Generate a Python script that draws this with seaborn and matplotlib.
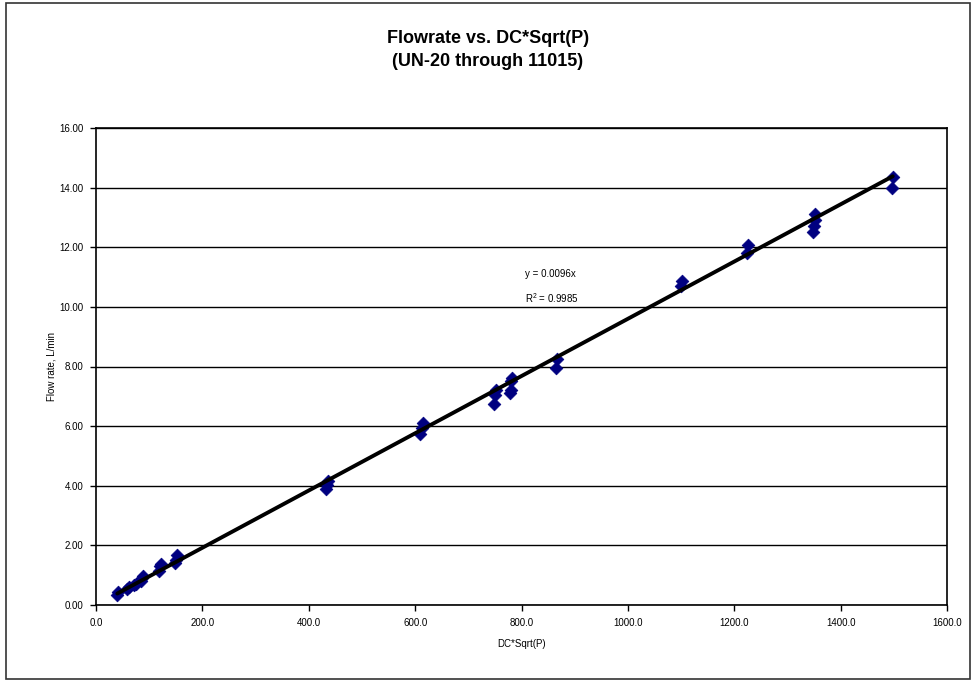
import numpy as np
import pandas as pd
import seaborn as sns
import matplotlib.pyplot as plt
from matplotlib.patches import Rectangle

dc_sqrt_p = [40, 42, 58, 62, 72, 76, 84, 86, 88,
             118, 120, 122, 148, 150, 152,
             432, 434, 436, 610, 612, 614,
             748, 750, 752, 778, 780, 781, 782,
             864, 866, 1100, 1102, 1224, 1226,
             1348, 1350, 1351, 1352, 1496, 1498]
flow_rate = [0.35, 0.42, 0.55, 0.62, 0.68, 0.72, 0.80, 0.90, 0.97,
             1.15, 1.30, 1.38, 1.40, 1.52, 1.68,
             3.90, 4.02, 4.15, 5.75, 5.95, 6.10,
             6.75, 7.05, 7.22, 7.10, 7.22, 7.50, 7.60,
             7.95, 8.25, 10.70, 10.88, 11.80, 12.07,
             12.50, 12.70, 12.92, 13.12, 14.00, 14.35]
slope = 0.0096
r2 = 0.9985
x_ticks = [0, 200, 400, 600, 800, 1000, 1200, 1400, 1600]
y_ticks = [0, 2, 4, 6, 8, 10, 12, 14, 16]

df = pd.DataFrame({'x': dc_sqrt_p, 'y': flow_rate})
trend_x = np.array([min(dc_sqrt_p), max(dc_sqrt_p)])
trend = pd.DataFrame({'x': trend_x, 'y': slope * trend_x})

sns.set_style('white', {'text.color': 'black', 'axes.labelcolor': 'black',
                        'xtick.color': 'black', 'ytick.color': 'black'})
plt.rcParams['font.family'] = ['Liberation Sans', 'DejaVu Sans']

fig = plt.figure(figsize=(9.76, 6.83), dpi=100)
ax = fig.add_axes([96 / 976, 1 - 605 / 683, 851 / 976, 477 / 683])

fig.patches.append(Rectangle((6 / 976, 4 / 683), 964 / 976, 676 / 683,
                             transform=fig.transFigure, fill=False,
                             edgecolor='#333333', linewidth=1.2))

sns.scatterplot(x='x', y='y', data=df, ax=ax, marker='D', s=42,
                color='#000080', edgecolor='#000080', zorder=3)
sns.lineplot(x='x', y='y', data=trend, ax=ax, color='black',
             linewidth=2.8, zorder=4)

ax.set_xlim(0, 1600)
ax.set_ylim(0, 16)
ax.set_xticks(x_ticks)
ax.set_yticks(y_ticks)
ax.set_xticklabels(['%.1f' % v for v in x_ticks], fontsize=7)
ax.set_yticklabels(['%.2f' % v for v in y_ticks], fontsize=7)
ax.tick_params(direction='out', length=4, width=1, colors='black', pad=5,
               bottom=True, left=True)
ax.grid(axis='y', color='black', linewidth=1)
for s in ax.spines.values():
    s.set_color('black')
    s.set_linewidth(1.2)

ax.set_xlabel('DC*Sqrt(P)', fontsize=7, labelpad=8, color='black')
ax.set_ylabel('Flow rate, L/min', fontsize=7, labelpad=2, color='black')

ax.text(806, 11.1, 'y = %.4fx' % slope, fontsize=7, va='center',
        color='black')
ax.text(806, 10.3, '$\\mathregular{R^2}$ = %.4f' % r2, fontsize=7,
        va='center', color='black')

fig.text(0.5, 1 - 50 / 683, 'Flowrate vs. DC*Sqrt(P)\n(UN-20 through 11015)',
         ha='center', va='center', fontsize=13, fontweight='bold',
         linespacing=1.4, color='black')

fig.savefig('out.png', dpi=100)
